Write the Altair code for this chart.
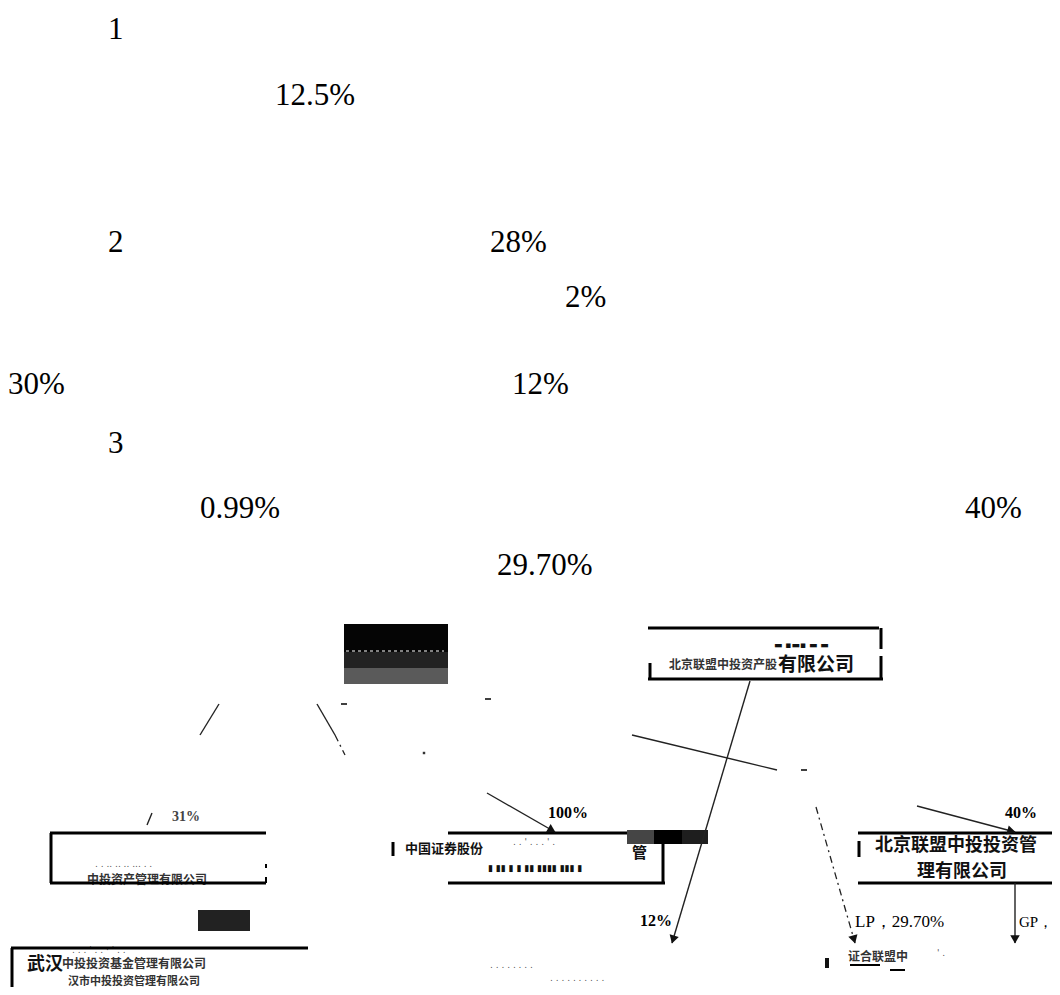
import math
import altair as alt
import pandas as pd

# ---------------- values (text content) ----------------
body_labels = ["1", "12.5%", "2", "28%", "2%", "30%", "12%", "3", "0.99%", "40%", "29.70%"]
pct_labels = ["100%", "40%", "12%"]
lp_label = ["LP，29.70%"]
gp_label = ["GP，"]
small_pct_label = ["31%"]
cn_big_labels = ["北京联盟中投投资管", "理有限公司"]
cn_box_label = ["有限公司"]
cn_wuhan_label = ["武汉"]
cn_guan_label = ["管"]
cn_mid_label = ["中国证券股份"]
cn_small_labels = ["北京联盟中投资产股", "中投投资基金管理有限公司", "中投资产管理有限公司", "证合联盟中"]
cn_tail_label = ["汉市中投投资管理有限公司"]
frag_labels = [".  .   ..  ..  ..  ...   .   .", ".   .   '   .   .   .   '   .",
               ".   .   .   '   .   .   ·   '   .   .", ".  .  .  .  .  .  .  .",
               ".   .   .   .   .   .   .   .   .   .", "'    ."]
block_labels = ["▮ ▮▮ ▮  ▮ ▮▮ ▮▮▮▮ ▮▮▮  ▮", "▬ ▪▬▪ ▬  ▬"]

# ---------------- layout (page pixel positions) ----------------
body_x = [108, 275, 108, 490, 565, 8, 512, 108, 200, 965, 497]
body_y = [30, 96, 243, 243, 298, 385, 385, 444, 509, 509, 566]
pct_x = [548, 1005, 640]
pct_y = [813, 813, 921]
lp_x, lp_y = [855], [922]
gp_x, gp_y = [1019], [922]
spct_x = [172]
spct_y = [817]
cnb_x = [875, 917]
cnb_y = [846, 872]
box_x, box_y = [778], [665]
wuhan_x, wuhan_y = [27], [965]
guan_x, guan_y = [632], [853]
mid_x, mid_y = [405], [849]
cns_x = [669, 62, 87, 848]
cns_y = [665, 964, 880, 957]
tail_x, tail_y = [68], [982]
frag_x = [95, 513, 72, 490, 550, 937]
frag_y = [864, 842, 950, 965, 978, 953]
blk_x = [488, 774]
blk_y = [868, 645]

# box borders (thick) and short marks
bx1 = [648, 881, 881, 648, 650, 50, 50, 51, 266, 266, 448, 663, 448, 858, 858, 11, 12, 393, 859, 341, 485, 801, 850, 890]
by1 = [628, 628, 656, 679, 663, 833, 883, 833, 864, 877, 833, 844, 883, 833, 883, 948, 948, 842, 841, 704, 699, 770, 965, 970]
bx2 = [879, 881, 881, 883, 650, 266, 266, 51, 266, 266, 627, 663, 665, 1060, 1060, 308, 12, 393, 859, 347, 491, 807, 880, 905]
by2 = [628, 649, 679, 679, 679, 833, 883, 883, 868, 883, 833, 883, 883, 833, 883, 948, 995, 856, 857, 704, 699, 770, 965, 970]
bw = [3, 3, 3, 3, 3, 3, 3, 3, 2, 2, 3, 3, 3, 3, 3, 3, 3, 3, 3, 1.5, 1.5, 1.5, 2, 2]

# connectors (thin solid)
cx1 = [219, 317, 750, 632, 487, 917, 1015, 152]
cy1 = [704, 704, 681, 735, 793, 806, 883, 813]
cx2 = [200, 335, 672, 777, 555, 1015, 1015, 147]
cy2 = [735, 735, 943, 770, 832, 832, 943, 825]
# connectors (dashed)
dx1 = [335, 816]
dy1 = [735, 807]
dx2 = [345, 855]
dy2 = [755, 943]
# arrow tips and the points they come from
tip_x = [672, 555, 1015, 1015, 855]
tip_y = [943, 832, 832, 943, 943]
from_x = [750, 487, 917, 1015, 816]
from_y = [681, 793, 806, 883, 807]

# filled blocks
rx1 = [344, 344, 344, 627, 654, 682, 198, 825]
ry1 = [624, 652, 668, 830, 830, 830, 910, 958]
rx2 = [448, 448, 448, 654, 682, 708, 250, 829]
ry2 = [652, 668, 684, 844, 844, 844, 931, 968]
rc = ["#050505", "#222222", "#5a5a5a", "#454545", "#000000", "#1e1e1e", "#222222", "#111111"]

# ---------------- chart ----------------
XS = alt.Scale(domain=[8, 1052])
YS = alt.Scale(domain=[8, 987], reverse=True)


def X(f="x"):
    return alt.X(f"{f}:Q", scale=XS, axis=None)


def Y(f="y"):
    return alt.Y(f"{f}:Q", scale=YS, axis=None)


def text_layer(labels, xs, ys, **kw):
    df = pd.DataFrame({"t": labels, "x": xs, "y": ys})
    return alt.Chart(df).mark_text(align="left", baseline="middle", **kw).encode(
        x=X(), y=Y(), text="t:N")


layers = []

rects = pd.DataFrame({"x": rx1, "y": ry1, "x2": rx2, "y2": ry2, "c": rc})
layers.append(alt.Chart(rects).mark_rect().encode(
    x=X(), y=Y(), x2="x2:Q", y2="y2:Q", color=alt.Color("c:N", scale=None)))

# white dotted line across the black block
wl = pd.DataFrame({"x": [346], "y": [651], "x2": [444], "y2": [651]})
layers.append(alt.Chart(wl).mark_rule(color="white", strokeWidth=1, strokeDash=[3, 3]).encode(
    x=X(), y=Y(), x2="x2:Q", y2="y2:Q"))

CJK = "Noto Sans CJK SC"
SERIF = "Liberation Serif"
layers.append(text_layer(body_labels, body_x, body_y, font=SERIF, fontSize=31, color="black"))
layers.append(text_layer(pct_labels, pct_x, pct_y, font=SERIF, fontSize=16, fontWeight="bold", color="black"))
layers.append(text_layer(lp_label, lp_x, lp_y, font=SERIF, fontSize=17, color="black"))
layers.append(text_layer(gp_label, gp_x, gp_y, font=SERIF, fontSize=15, color="black"))
layers.append(text_layer(small_pct_label, spct_x, spct_y, font=SERIF, fontSize=14, fontWeight="bold", color="#444444"))
layers.append(text_layer(cn_big_labels, cnb_x, cnb_y, font=CJK, fontSize=18, fontWeight="bold", color="#111111"))
layers.append(text_layer(cn_box_label, box_x, box_y, font=CJK, fontSize=19, fontWeight="bold", color="#111111"))
layers.append(text_layer(cn_wuhan_label, wuhan_x, wuhan_y, font=CJK, fontSize=18, fontWeight="bold", color="#111111"))
layers.append(text_layer(cn_guan_label, guan_x, guan_y, font=CJK, fontSize=15, fontWeight="bold", color="#111111"))
layers.append(text_layer(cn_mid_label, mid_x, mid_y, font=CJK, fontSize=13, fontWeight="bold", color="#111111"))
layers.append(text_layer(cn_small_labels, cns_x, cns_y, font=CJK, fontSize=12, fontWeight="bold", color="#333333"))
layers.append(text_layer(cn_tail_label, tail_x, tail_y, font=CJK, fontSize=11, fontWeight="bold", color="#333333"))
layers.append(text_layer(frag_labels, frag_x, frag_y, font="DejaVu Sans", fontSize=9, color="#555555"))
layers.append(text_layer(block_labels, blk_x, blk_y, font="DejaVu Sans", fontSize=9, color="#111111"))

# borders
borders = pd.DataFrame({"x": bx1, "y": by1, "x2": bx2, "y2": by2, "w": bw})
layers.append(alt.Chart(borders).mark_rule(color="black").encode(
    x=X(), y=Y(), x2="x2:Q", y2="y2:Q", strokeWidth=alt.StrokeWidth("w:Q", scale=None)))

# connectors
conns = pd.DataFrame({"x": cx1, "y": cy1, "x2": cx2, "y2": cy2})
layers.append(alt.Chart(conns).mark_rule(color="#222222", strokeWidth=1.4).encode(
    x=X(), y=Y(), x2="x2:Q", y2="y2:Q"))
dashed = pd.DataFrame({"x": dx1, "y": dy1, "x2": dx2, "y2": dy2})
layers.append(alt.Chart(dashed).mark_rule(color="#222222", strokeWidth=1.3, strokeDash=[7, 4, 2, 4]).encode(
    x=X(), y=Y(), x2="x2:Q", y2="y2:Q"))

# arrowheads
ang, hx, hy = [], [], []
for tx, ty, fx, fy in zip(tip_x, tip_y, from_x, from_y):
    ddx, ddy = tx - fx, ty - fy
    L = math.hypot(ddx, ddy)
    ang.append(math.degrees(math.atan2(ddx, -ddy)) % 360)
    hx.append(tx - ddx / L * 5)
    hy.append(ty - ddy / L * 5)
heads = pd.DataFrame({"x": hx, "y": hy, "a": ang})
layers.append(alt.Chart(heads).mark_point(shape="triangle", filled=True, color="#111111", size=90, opacity=1).encode(
    x=X(), y=Y(), angle=alt.Angle("a:Q", scale=None)))

# small dot
dot = pd.DataFrame({"x": [424], "y": [753]})
layers.append(alt.Chart(dot).mark_point(shape="square", filled=True, color="#333333", size=6, opacity=1).encode(
    x=X(), y=Y()))

chart = alt.layer(*layers).properties(
    width=1044, height=979, padding=0, autosize="none", background="white"
).configure_view(stroke=None)

chart.save("out.html", embed_options={"renderer": "svg", "actions": False})
